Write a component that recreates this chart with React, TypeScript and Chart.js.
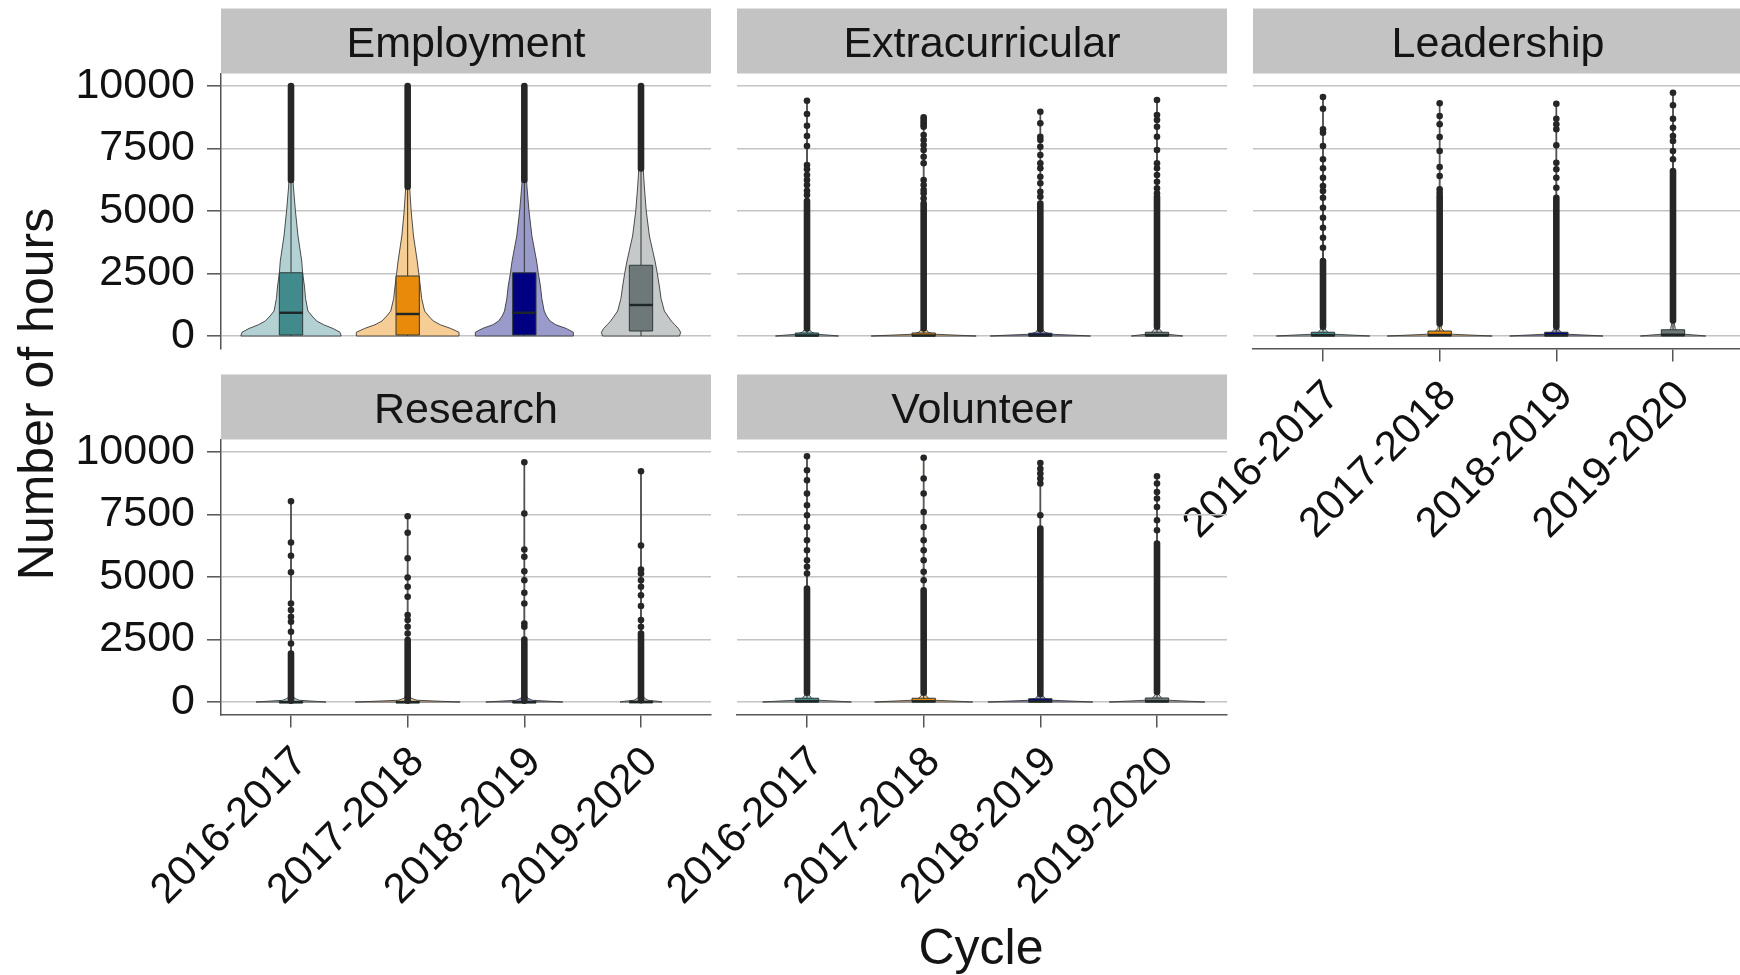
import React, { useEffect, useRef } from "react";
import { Chart, registerables } from "chart.js";
Chart.register(...registerables);

const FONT = '"Liberation Sans", Arial, Helvetica, sans-serif';
const CW = 1750;
const CH = 975;

// ---------- data ----------
const cycles = ["2016-2017", "2017-2018", "2018-2019", "2019-2020"];
const yTickValues = [0, 2500, 5000, 7500, 10000];
const boxFill = ["#418b8d", "#ea8a0b", "#000080", "#6e7878"];
const violinFill = ["#b3d1d2", "#f5cd95", "#9a9acb", "#c6c9c9"];

// Employment
const employmentLevels = [0, 150, 300, 450, 600, 800, 1000, 1500, 2000, 2500, 3000, 4000, 5000, 6000, 7000, 8500, 10000];
const employmentWidths = [
  [0.43, 0.42, 0.36, 0.28, 0.22, 0.18, 0.145, 0.125, 0.115, 0.1, 0.092, 0.06, 0.038, 0.02, 0.011, 0.007, 0.004],
  [0.44, 0.44, 0.37, 0.28, 0.22, 0.18, 0.145, 0.12, 0.108, 0.095, 0.082, 0.05, 0.03, 0.016, 0.01, 0.006, 0.004],
  [0.42, 0.42, 0.36, 0.27, 0.22, 0.19, 0.17, 0.15, 0.138, 0.12, 0.105, 0.065, 0.04, 0.022, 0.013, 0.007, 0.004],
  [0.33, 0.34, 0.32, 0.29, 0.26, 0.23, 0.2, 0.172, 0.157, 0.14, 0.12, 0.072, 0.045, 0.028, 0.015, 0.007, 0.004],
];
const employmentQ1 = [40, 40, 40, 200];
const employmentMedian = [930, 880, 930, 1240];
const employmentQ3 = [2530, 2400, 2530, 2830];
const employmentWhisker = [6240, 5970, 6240, 6700];
const employmentDenseHi = [10000, 10000, 10000, 10000];
const employmentOutliers: number[][] = [[], [], [], []];
const employmentMax = [10000, 10000, 10000, 10000];

// levels for the flat violins of the other panels
const thinLevels = [0, 30, 70, 150, 300, 600];

// Extracurricular
const extraWidths = [
  [0.27, 0.2, 0.09, 0.04, 0.015, 0.005],
  [0.45, 0.3, 0.1, 0.04, 0.015, 0.005],
  [0.43, 0.3, 0.1, 0.04, 0.015, 0.005],
  [0.22, 0.17, 0.09, 0.045, 0.018, 0.006],
];
const extraQ1 = [0, 0, 0, 0];
const extraMedian = [20, 20, 20, 30];
const extraQ3 = [120, 120, 110, 150];
const extraWhisker = [300, 300, 270, 370];
const extraDenseHi = [5400, 5300, 5300, 5570];
const extraOutliers = [
  [9410, 8880, 8410, 8000, 7600, 6840, 6670, 6440, 6240, 6040, 5810, 5640],
  [8750, 8650, 8550, 8450, 8370, 8040, 7840, 7640, 7440, 7170, 6910, 6240, 6040, 5840, 5710, 5500],
  [8970, 8510, 7970, 7840, 7570, 7240, 6910, 6710, 6370, 6110, 5770, 5570],
  [9440, 8840, 8640, 8370, 7970, 7440, 6910, 6710, 6440, 6170, 5910, 5710],
];
const extraMax = [9410, 8750, 8970, 9440];

// Leadership
const leadWidths = [
  [0.4, 0.28, 0.1, 0.04, 0.015, 0.005],
  [0.45, 0.3, 0.11, 0.045, 0.016, 0.005],
  [0.4, 0.28, 0.1, 0.04, 0.015, 0.005],
  [0.28, 0.21, 0.1, 0.05, 0.02, 0.006],
];
const leadQ1 = [0, 0, 0, 0];
const leadMedian = [30, 40, 30, 50];
const leadQ3 = [150, 200, 150, 250];
const leadWhisker = [370, 500, 370, 620];
const leadDenseHi = [3000, 5600, 5530, 6600];
const leadOutliers = [
  [9560, 9090, 8270, 8130, 7600, 7070, 6710, 6330, 6000, 5800, 5530, 5130, 4730, 4330, 3930, 3530],
  [9310, 8800, 8470, 7960, 7400, 6760, 6400, 5870, 5730],
  [9290, 8690, 8470, 8270, 7630, 6930, 6670, 6330, 5930],
  [9730, 9230, 8690, 8330, 8000, 7800, 7400, 7070],
];
const leadMax = [9560, 9310, 9290, 9730];

// Research
const researchWidths = [
  [0.3, 0.2, 0.07, 0.03, 0.012, 0.004],
  [0.45, 0.28, 0.08, 0.03, 0.012, 0.004],
  [0.33, 0.22, 0.07, 0.03, 0.012, 0.004],
  [0.18, 0.14, 0.06, 0.03, 0.012, 0.004],
];
const researchQ1 = [0, 0, 0, 0];
const researchMedian = [0, 0, 0, 0];
const researchQ3 = [20, 20, 20, 30];
const researchWhisker = [50, 50, 50, 75];
const researchDenseHi = [1940, 2480, 2500, 2740];
const researchOutliers = [
  [8030, 6380, 5850, 5190, 3940, 3680, 3410, 3210, 2810, 2340],
  [7430, 6770, 5750, 4980, 4610, 4210, 3480, 3280, 3010, 2740],
  [9590, 7540, 6100, 5810, 5230, 4870, 4370, 3940, 3140, 3010],
  [9230, 6260, 5300, 5140, 4870, 4610, 4270, 3840, 3280, 3010],
];
const researchMax = [8030, 7430, 9590, 9230];

// Volunteer
const volunteerWidths = [
  [0.38, 0.27, 0.1, 0.04, 0.015, 0.005],
  [0.42, 0.29, 0.1, 0.04, 0.015, 0.005],
  [0.45, 0.3, 0.1, 0.04, 0.015, 0.005],
  [0.41, 0.28, 0.1, 0.04, 0.015, 0.005],
];
const volunteerQ1 = [0, 0, 0, 0];
const volunteerMedian = [30, 30, 25, 30];
const volunteerQ3 = [150, 150, 130, 160];
const volunteerWhisker = [370, 370, 320, 400];
const volunteerDenseHi = [4540, 4470, 6940, 6340];
const volunteerOutliers = [
  [9830, 9270, 8870, 8340, 7870, 7470, 7000, 6470, 6070, 5670, 5410, 5140],
  [9770, 8940, 8340, 7600, 7000, 6470, 6070, 5670, 5210, 4870],
  [9560, 9330, 9140, 8940, 8740, 7470],
  [9030, 8740, 8400, 8140, 7800, 7270, 6870],
];
const volunteerMax = [9830, 9770, 9560, 9030];

// ---------- panel specs ----------
type Spec = {
  name: string;
  left: number;
  top: number;
  showY: boolean;
  showX: boolean;
  titles: boolean;
  levels: number[];
  widths: number[][];
  q1: number[];
  median: number[];
  q3: number[];
  whisker: number[];
  denseHi: number[];
  outliers: number[][];
  vmax: number[];
};

const PLOT_W = 490;
const PLOT_H = 275;
const STRIP_H = 65;
const X_AXIS_H = 215;
const Y_AXIS_W = 221;
const TICK_FONT = 43;
const XTICK_FONT = 42;
const TITLE_FONT = 50;

const specs: Spec[] = [
  { name: "Employment", left: 221, top: 73.5, showY: true, showX: false, titles: false, levels: employmentLevels, widths: employmentWidths, q1: employmentQ1, median: employmentMedian, q3: employmentQ3, whisker: employmentWhisker, denseHi: employmentDenseHi, outliers: employmentOutliers, vmax: employmentMax },
  { name: "Extracurricular", left: 737, top: 73.5, showY: false, showX: false, titles: false, levels: thinLevels, widths: extraWidths, q1: extraQ1, median: extraMedian, q3: extraQ3, whisker: extraWhisker, denseHi: extraDenseHi, outliers: extraOutliers, vmax: extraMax },
  { name: "Leadership", left: 1253, top: 73.5, showY: false, showX: true, titles: false, levels: thinLevels, widths: leadWidths, q1: leadQ1, median: leadMedian, q3: leadQ3, whisker: leadWhisker, denseHi: leadDenseHi, outliers: leadOutliers, vmax: leadMax },
  { name: "Research", left: 221, top: 439.5, showY: true, showX: true, titles: true, levels: thinLevels, widths: researchWidths, q1: researchQ1, median: researchMedian, q3: researchQ3, whisker: researchWhisker, denseHi: researchDenseHi, outliers: researchOutliers, vmax: researchMax },
  { name: "Volunteer", left: 737, top: 439.5, showY: false, showX: true, titles: false, levels: thinLevels, widths: volunteerWidths, q1: volunteerQ1, median: volunteerMedian, q3: volunteerQ3, whisker: volunteerWhisker, denseHi: volunteerDenseHi, outliers: volunteerOutliers, vmax: volunteerMax },
];

const VIOLIN_TIP = 0.003;
const BOX_HALF = 0.1;

function marksPlugin(spec: Spec) {
  return {
    id: "marks",
    beforeDatasetsDraw(chart: any) {
      const ctx: CanvasRenderingContext2D = chart.ctx;
      const xs = chart.scales.x;
      const ys = chart.scales.y;
      const unit = xs.getPixelForValue(2) - xs.getPixelForValue(1);
      ctx.save();
      spec.q1.forEach((_, i) => {
        const cx = xs.getPixelForValue(i + 1);
        // violin
        const lv = spec.levels;
        const w = spec.widths[i];
        const top = spec.vmax[i];
        const pts: [number, number][] = [];
        for (let k = 0; k < lv.length && lv[k] < top; k++) pts.push([lv[k], w[k]]);
        pts.push([top, VIOLIN_TIP]);
        ctx.beginPath();
        ctx.moveTo(cx - pts[0][1] * unit, ys.getPixelForValue(pts[0][0]));
        pts.forEach(([v, hw]) => ctx.lineTo(cx + hw * unit, ys.getPixelForValue(v)));
        for (let k = pts.length - 1; k >= 0; k--) ctx.lineTo(cx - pts[k][1] * unit, ys.getPixelForValue(pts[k][0]));
        ctx.closePath();
        ctx.fillStyle = violinFill[i];
        ctx.fill();
        ctx.strokeStyle = "#3a3a3a";
        ctx.lineWidth = 0.9;
        ctx.lineJoin = "round";
        ctx.stroke();

        // whiskers
        ctx.strokeStyle = "#333333";
        ctx.lineWidth = 1;
        ctx.beginPath();
        ctx.moveTo(cx, ys.getPixelForValue(spec.q3[i]));
        ctx.lineTo(cx, ys.getPixelForValue(spec.whisker[i]));
        ctx.moveTo(cx, ys.getPixelForValue(spec.q1[i]));
        ctx.lineTo(cx, ys.getPixelForValue(0));
        ctx.stroke();

        // box
        const bx0 = cx - BOX_HALF * unit;
        const by0 = ys.getPixelForValue(spec.q3[i]);
        const by1 = ys.getPixelForValue(spec.q1[i]);
        ctx.fillStyle = boxFill[i];
        ctx.fillRect(bx0, by0, 2 * BOX_HALF * unit, Math.max(by1 - by0, 1.5));
        ctx.strokeStyle = "#2f3a3a";
        ctx.lineWidth = 1;
        ctx.strokeRect(bx0, by0, 2 * BOX_HALF * unit, Math.max(by1 - by0, 1.5));
        // median
        ctx.beginPath();
        ctx.strokeStyle = "#1e2626";
        ctx.lineWidth = 2.4;
        const my = ys.getPixelForValue(spec.median[i]);
        ctx.moveTo(bx0, my);
        ctx.lineTo(bx0 + 2 * BOX_HALF * unit, my);
        ctx.stroke();

        // dense run of outliers
        ctx.beginPath();
        ctx.strokeStyle = "#262626";
        ctx.lineWidth = 6.6;
        ctx.lineCap = "round";
        ctx.moveTo(cx, ys.getPixelForValue(spec.whisker[i]));
        ctx.lineTo(cx, ys.getPixelForValue(spec.denseHi[i]));
        ctx.stroke();
        ctx.lineCap = "butt";
      });
      ctx.restore();
    },
    afterDraw(chart: any) {
      const ctx: CanvasRenderingContext2D = chart.ctx;
      const a = chart.chartArea;
      ctx.save();
      ctx.fillStyle = "#c3c3c3";
      ctx.fillRect(a.left, a.top - STRIP_H, a.right - a.left, STRIP_H);
      ctx.fillStyle = "#141414";
      ctx.font = `${TICK_FONT}px ${FONT}`;
      ctx.textAlign = "center";
      ctx.textBaseline = "middle";
      ctx.fillText(spec.name, (a.left + a.right) / 2, a.top - STRIP_H / 2 + 4);
      if (spec.titles) {
        ctx.font = `${TITLE_FONT}px ${FONT}`;
        ctx.textBaseline = "alphabetic";
        ctx.fillText("Cycle", 981, 964);
        ctx.translate(53, 394);
        ctx.rotate(-Math.PI / 2);
        ctx.fillText("Number of hours", 0, 0);
      }
      ctx.restore();
    },
  };
}

function buildConfig(spec: Spec): any {
  const points: { x: number; y: number }[] = [];
  spec.outliers.forEach((arr, i) => arr.forEach((v) => points.push({ x: i + 1, y: v })));
  const plotBottom = spec.top + PLOT_H;
  return {
    type: "scatter",
    data: {
      datasets: [
        {
          data: points,
          pointRadius: 3.3,
          pointHoverRadius: 3.3,
          pointBackgroundColor: "#262626",
          pointBorderWidth: 0,
          showLine: false,
        },
      ],
    },
    options: {
      animation: false,
      responsive: false,
      maintainAspectRatio: false,
      events: [],
      layout: {
        padding: {
          left: spec.showY ? spec.left - Y_AXIS_W : spec.left,
          top: spec.top,
          right: CW - (spec.left + PLOT_W),
          bottom: CH - plotBottom - (spec.showX ? X_AXIS_H : 0),
        },
      },
      plugins: { legend: { display: false }, tooltip: { enabled: false }, title: { display: false } },
      scales: {
        x: {
          type: "linear",
          position: "bottom",
          min: 0.4,
          max: 4.6,
          display: spec.showX,
          afterBuildTicks: (s: any) => {
            s.ticks = cycles.map((_, i) => ({ value: i + 1 }));
          },
          afterFit: (s: any) => {
            if (spec.showX) {
              s.height = X_AXIS_H;
              s.paddingLeft = 0;
              s.paddingRight = 0;
            } else {
              s.height = 0;
            }
          },
          ticks: {
            autoSkip: false,
            maxRotation: 45,
            minRotation: 45,
            padding: 10,
            labelOffset: 10,
            color: "#111111",
            font: { family: FONT, size: XTICK_FONT },
            callback: (v: number) => cycles[Math.round(v) - 1] ?? "",
          },
          grid: { drawOnChartArea: false, drawTicks: true, tickLength: 13, tickColor: "#555555", lineWidth: 1.5 },
          border: { display: true, color: "#555555", width: 1.5 },
        },
        y: {
          type: "linear",
          min: -500,
          max: 10500,
          afterBuildTicks: (s: any) => {
            s.ticks = yTickValues.map((v) => ({ value: v }));
          },
          afterFit: (s: any) => {
            s.width = spec.showY ? Y_AXIS_W : 0;
          },
          ticks: {
            display: spec.showY,
            padding: 12,
            color: "#111111",
            font: { family: FONT, size: TICK_FONT },
            callback: (v: number) => String(v),
          },
          grid: {
            color: "#c4c4c4",
            lineWidth: 1.6,
            drawTicks: spec.showY,
            tickLength: 14,
            tickColor: "#555555",
            tickWidth: 1.5,
          },
          border: { display: spec.showY, color: "#555555", width: 1.5 },
        },
      },
    },
    plugins: [marksPlugin(spec)],
  };
}

function Panel({ spec }: { spec: Spec }) {
  const ref = useRef<HTMLCanvasElement>(null);
  useEffect(() => {
    const chart = new Chart(ref.current as HTMLCanvasElement, buildConfig(spec));
    return () => chart.destroy();
  }, [spec]);
  return (
    <canvas
      ref={ref}
      width={CW}
      height={CH}
      style={{ position: "absolute", left: 0, top: 0, width: CW, height: CH }}
    />
  );
}

export default function App() {
  return (
    <div
      style={{
        position: "absolute",
        left: 0,
        top: 0,
        width: 1740,
        height: 975,
        overflow: "hidden",
        background: "#ffffff",
      }}
    >
      {specs.map((s) => (
        <Panel key={s.name} spec={s} />
      ))}
    </div>
  );
}
